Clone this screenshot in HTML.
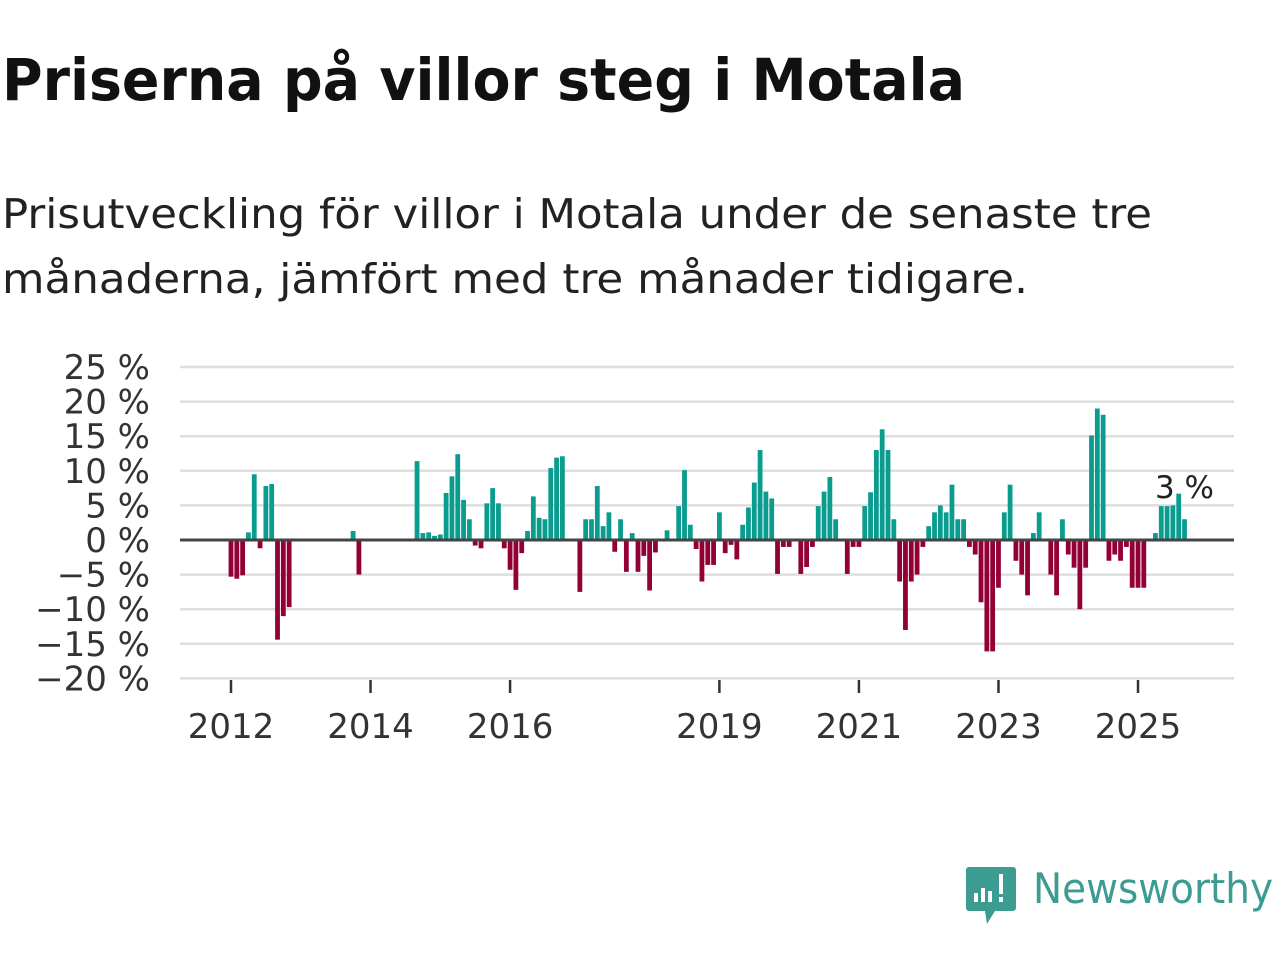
<!DOCTYPE html>
<html><head><meta charset="utf-8">
<style>
body{margin:0;width:1280px;height:960px;background:#fff;overflow:hidden;font-family:"Liberation Sans","DejaVu Sans",sans-serif;}
svg{position:absolute;left:0;top:0}
</style></head>
<body>
<svg id="chart" width="1280" height="960">
<text x="2" y="100" font-size="58" font-weight="bold" fill="#111" font-family="'DejaVu Sans',sans-serif" textLength="963" lengthAdjust="spacingAndGlyphs">Priserna på villor steg i Motala</text>
<text x="2" y="228" font-size="41" fill="#222" font-family="'DejaVu Sans',sans-serif" textLength="1150" lengthAdjust="spacingAndGlyphs">Prisutveckling för villor i Motala under de senaste tre</text>
<text x="2" y="293" font-size="41" fill="#222" font-family="'DejaVu Sans',sans-serif" textLength="1026" lengthAdjust="spacingAndGlyphs">månaderna, jämfört med tre månader tidigare.</text>
<g id="grid"></g><g id="bars"></g><g id="axes"></g>
<g>
<path d="M969 867 h44 a3 3 0 0 1 3 3 v38 a3 3 0 0 1 -3 3 h-18 l-8 13 l-2 -13 h-16 a3 3 0 0 1 -3 -3 v-38 a3 3 0 0 1 3 -3z" fill="#3d9c91"/>
<rect x="974" y="893" width="4" height="9" fill="#fff"/><rect x="981" y="888" width="4" height="14" fill="#fff"/><rect x="988" y="891" width="4" height="11" fill="#fff"/><rect x="999" y="874" width="4" height="20" fill="#fff"/><rect x="999" y="897" width="4" height="5" fill="#fff"/>
<text x="1033" y="903" font-size="42" fill="#3d9c91" font-family="'DejaVu Sans',sans-serif" textLength="240" lengthAdjust="spacingAndGlyphs">Newsworthy</text>
</g>
</svg>
<script>
const values=[-5.3,-5.6,-5.1,1.1,9.5,-1.2,7.8,8.1,-14.4,-11.0,-9.7,0,0,0,0,0,0,0,0,0,0,1.3,-5.0,0,0,0,0,0,0,0,0,0,
11.4,1.0,1.1,0.6,0.8,6.8,9.2,12.4,5.8,3.0,-0.8,-1.2,5.3,7.5,5.3,-1.2,-4.3,-7.2,-1.9,1.3,6.3,3.2,3.0,10.4,11.9,12.1,0,0,
-7.5,3.0,3.0,7.8,2.0,4.0,-1.7,3.0,-4.6,1.0,-4.6,-2.3,-7.3,-1.8,0,1.4,0,4.9,10.1,2.2,-1.3,-6.0,-3.6,-3.6,4.0,-1.9,-0.7,-2.8,
2.2,4.7,8.3,13.0,7.0,6.0,-4.9,-1.0,-1.0,0,-4.9,-3.9,-1.0,4.9,7.0,9.1,3.0,0,-4.9,-1.0,-1.0,4.9,6.9,13.0,16.0,13.0,3.0,
-6.0,-13.0,-6.0,-5.0,-1.0,2.0,4.0,5.0,4.0,8.0,3.0,3.0,-1.0,-2.1,-9.0,-16.1,-16.1,-6.9,4.0,8.0,-3.0,-5.0,-8.0,1.0,4.0,0,
-5.0,-8.0,3.0,-2.1,-4.0,-10.0,-4.0,15.1,19.0,18.1,-3.0,-2.1,-3.0,-1.0,-6.9,-6.9,-6.9,0,1.0,4.9,4.9,5.0,6.7,3.0];
const yTicks=[25,20,15,10,5,0,-5,-10,-15,-20];
const xTickYears=[2012,2014,2016,2019,2021,2023,2025];
const startYear=2012;
const NS="http://www.w3.org/2000/svg";
const X0=231,PXY=69.77,Y0=540,PXV=6.92;
const xs=m=>X0+m*PXY/12;
const ys=v=>Y0-v*PXV;
function mk(t,a,p){const e=document.createElementNS(NS,t);for(const k in a)e.setAttribute(k,a[k]);p.appendChild(e);return e;}
const grid=document.getElementById('grid'),bars=document.getElementById('bars'),axes=document.getElementById('axes');
yTicks.forEach(v=>{
 if(v!==0){const l=mk('line',{x1:180,x2:1234,y1:ys(v),y2:ys(v),stroke:'#dedede','stroke-width':2.5},grid);
 
 }
 const t=mk('text',{x:150,y:ys(v)+12,'font-size':34,'text-anchor':'end',fill:'#333','font-family':"'DejaVu Sans',sans-serif"},axes);
 t.textContent=(v<0?'\u2212'+(-v):v)+' %';
 
 
});
values.forEach((v,i)=>{
 if(v===0)return;
 const x=xs(i);
 const r=mk('rect',{x:x-2.4,width:4.8,y:Math.min(ys(v),Y0),height:Math.abs(ys(v)-Y0),fill:v>0?'#0a9c8e':'#930036'},bars);
 
 
});
const zl=mk('line',{x1:180,x2:1234,y1:Y0,y2:Y0,stroke:'#444','stroke-width':3},axes);


xTickYears.forEach(yr=>{
 const x=xs((yr-startYear)*12);
 const tk=mk('line',{x1:x,x2:x,y1:680,y2:693,stroke:'#333','stroke-width':2.5},axes);
 
 
 const t=mk('text',{x:x,y:738,'font-size':34,'text-anchor':'middle',fill:'#333','font-family':"'DejaVu Sans',sans-serif"},axes);
 t.textContent=yr;
 
 
});
const li=values.length-1;
const lab=mk('text',{x:xs(li),y:498,'font-size':31,'text-anchor':'middle',fill:'#222',stroke:'#fff','stroke-width':6,'paint-order':'stroke','font-family':"'DejaVu Sans',sans-serif"},axes);
lab.textContent=Math.round(values[li])+' %';


</script>
</body></html>
